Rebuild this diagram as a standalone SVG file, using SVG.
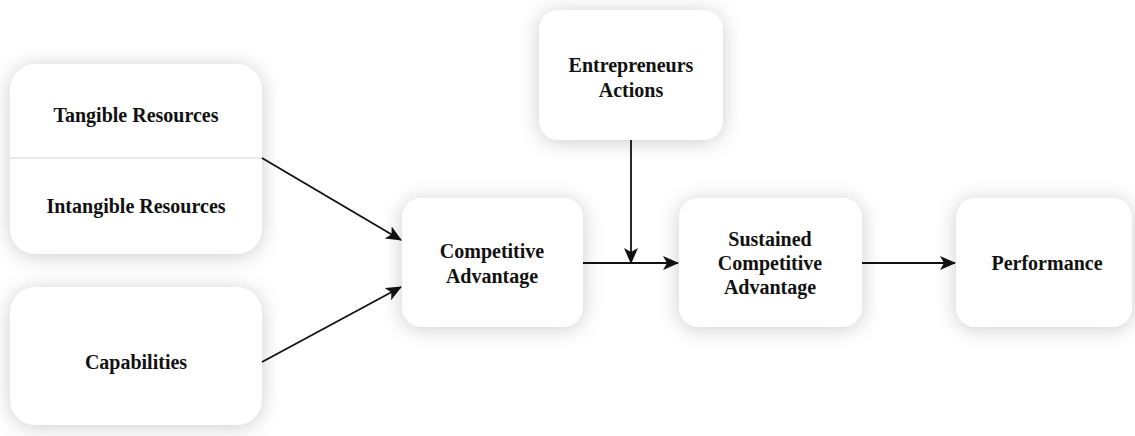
<svg xmlns="http://www.w3.org/2000/svg" width="1135" height="436" viewBox="0 0 1135 436">
  <style>
    .box { fill: #ffffff; filter: url(#glow); }
    .lbl { font-family: "Liberation Serif", "Times New Roman", serif; font-weight: bold; font-size: 20px; fill: #111111; text-anchor: middle; dominant-baseline: central; }
    .edge { fill: none; stroke: #111111; stroke-width: 1.8; marker-end: url(#arrow); }
    .divider { stroke: #d6d6d6; stroke-width: 1.2; }
  </style>
  <defs>
    <filter id="glow" x="-30%" y="-30%" width="160%" height="160%">
      <feDropShadow dx="0" dy="2" stdDeviation="10" flood-color="#000000" flood-opacity="0.2"/>
    </filter>
    <marker id="arrow" viewBox="0 0 16 14" refX="15" refY="7" markerWidth="16" markerHeight="14" markerUnits="userSpaceOnUse" orient="auto">
      <path d="M0,0 L16,7 L0,14 L4,7 Z" fill="#111111"/>
    </marker>
  </defs>
  <rect width="1135" height="436" fill="#ffffff"/>

  <g id="resources">
    <rect class="box" x="10" y="64" width="252" height="190" rx="26"/>
    <line class="divider" x1="10" y1="158" x2="262" y2="158"/>
    <text class="lbl" x="136" y="115">Tangible Resources</text>
    <text class="lbl" x="136" y="206">Intangible Resources</text>
  </g>

  <g id="capabilities">
    <rect class="box" x="10" y="287" width="252" height="138" rx="26"/>
    <text class="lbl" x="136" y="362">Capabilities</text>
  </g>

  <g id="competitive-advantage">
    <rect class="box" x="402" y="198" width="181" height="129" rx="20"/>
    <text class="lbl" x="492" y="251">Competitive</text>
    <text class="lbl" x="492" y="276">Advantage</text>
  </g>

  <g id="entrepreneurs-actions">
    <rect class="box" x="539" y="10" width="184" height="130" rx="20"/>
    <text class="lbl" x="631" y="65">Entrepreneurs</text>
    <text class="lbl" x="631" y="90">Actions</text>
  </g>

  <g id="sustained-competitive-advantage">
    <rect class="box" x="679" y="198" width="183" height="129" rx="20"/>
    <text class="lbl" x="770" y="239">Sustained</text>
    <text class="lbl" x="770" y="263">Competitive</text>
    <text class="lbl" x="770" y="287">Advantage</text>
  </g>

  <g id="performance">
    <rect class="box" x="956" y="198" width="176" height="129" rx="20"/>
    <text class="lbl" x="1047" y="263">Performance</text>
  </g>

  <g id="connectors">
    <line class="edge" x1="262" y1="158" x2="401" y2="240"/>
    <line class="edge" x1="262" y1="362" x2="401" y2="287"/>
    <line class="edge" x1="583" y1="263" x2="678" y2="263"/>
    <line class="edge" x1="631" y1="140" x2="631" y2="263"/>
    <line class="edge" x1="862" y1="263" x2="955" y2="263"/>
  </g>
</svg>
